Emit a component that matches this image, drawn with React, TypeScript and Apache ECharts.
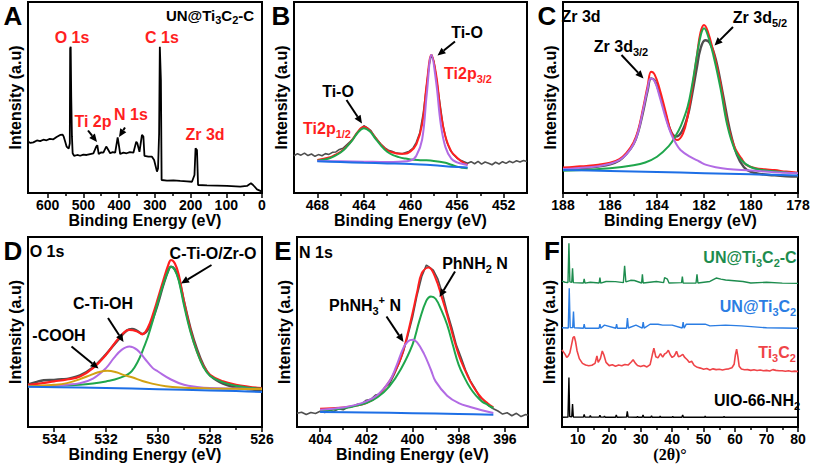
import React, { useEffect, useRef } from "react";
import * as echarts from "echarts";

// ---------- Panel A: survey spectrum (binding energy eV, intensity a.u.) ----------
const surveyA: number[][] = [
  [655, 26.9], [648, 26.2], [640, 26.5], [630, 27.5], [621, 27.2], [612, 27.9], [603, 27.6], [594, 28.3],
  [584, 28.1], [575, 29.3], [565, 30.4], [558, 30.5], [555, 29.5], [551, 26.9], [547, 24.3], [541, 23.2],
  [538, 26], [537, 75.7], [535.5, 76.6], [534, 50.4], [532, 29.5], [530, 20.8], [526, 19.4], [517, 19.9],
  [509, 19.5], [500, 20.1], [491, 19.9], [481, 20.4], [472, 20.8], [464, 24.3], [461, 25], [457, 20.4],
  [450, 21.3], [444, 21.1], [436, 24.3], [433, 23.4], [425, 20.8], [418, 21.4], [411, 21.1], [404, 29.1],
  [400, 24.3], [397, 20.4], [388, 21.1], [379, 20.8], [370, 21.4], [360, 21.1], [352, 26.9], [349, 26],
  [343, 21.6], [336, 30.4], [332, 29.5], [329, 19.4], [318, 19], [308, 19], [302, 17.3], [294, 11.2],
  [291, 12.9], [288, 31.2], [286, 76.6], [283, 59.2], [281, 6.8], [266, 6.5], [248, 6.6], [229, 6.3],
  [210, 6.1], [196, 5.9], [189, 9.4], [186, 23.4], [182, 22.5], [179, 4.2], [154, 4], [125, 3.9],
  [98, 3.7], [61, 3.3], [42, 3.7], [31, 5.1], [25, 4.2], [14, 1.9], [0, 0.7],
];

// ---------- Panel B: Ti 2p ----------
const tiRaw: number[][] = [
  [470, 19.5], [469.7, 20.6], [469.4, 19.8], [469.1, 20.9], [468.8, 19.6], [468.5, 20.4], [468.2, 19.2],
  [467.9, 20.1], [467.6, 19.5], [467.3, 20.6], [467, 20.2], [466.7, 21.3], [466.4, 21.5], [466.1, 22.8],
  [465.8, 23.4], [465.5, 25.1], [465.2, 26.8], [464.9, 28.6], [464.6, 31.2], [464.3, 33.5], [464.0, 35.2],
  [463.7, 34.1], [463.4, 32.6], [463.1, 29.8], [462.8, 27.5], [462.5, 25.3], [462.2, 23.6], [461.9, 22.4],
  [461.6, 21.8], [461.3, 21.1], [461, 20.8], [460.7, 20.5], [460.4, 21.2], [460.1, 21.9], [459.8, 23.4],
  [459.5, 26.5], [459.2, 31.5], [458.9, 42], [458.6, 57], [458.4, 67], [458.2, 72.5], [458, 69],
  [457.8, 61], [457.5, 48], [457.2, 35], [456.9, 27], [456.6, 22.5], [456.3, 20], [456, 18.2], [455.7, 17.1],
  [455.4, 16.4], [455.1, 15.6], [454.8, 16.4], [454.5, 15.3], [454.2, 16.6], [453.9, 15.1], [453.6, 16.2],
  [453.3, 15.6], [453, 14.8], [452.7, 16.1], [452.4, 15.2], [452.1, 16.4], [451.8, 15.5], [451.5, 16.6],
  [451.2, 15.9], [450.9, 16.9], [450.6, 16.2], [450.3, 17], [450, 16.5],
];
const tiEnvelope: number[][] = [
  [468, 17.3], [467, 18.6], [466.5, 19.9], [466, 21.6], [465.5, 24.2], [465, 27.8], [464.5, 32.3], [464, 34.7],
  [463.5, 32.8], [463, 28.9], [462.5, 25.2], [462, 22.4], [461.5, 21.2], [461, 20.6], [460.5, 20.6], [460, 21.8],
  [459.5, 25.5], [459, 36], [458.6, 57.4], [458.2, 72.3], [457.8, 62], [457.4, 42], [457, 29.5], [456.5, 21.8],
  [456, 18.5], [455.5, 16], [455.1, 14.7],
];
const ti2p12: number[][] = [
  [468, 16.9], [467, 18.1], [466.5, 19.4], [466, 21.2], [465.5, 24], [465, 27.5], [464.5, 31.8], [464, 33.9],
  [463.5, 32.3], [463, 28.4], [462.5, 24.6], [462, 21.6], [461.5, 19.8], [461, 18.8], [460.5, 18.1], [460, 17.6],
  [459, 17.2], [458, 16.8], [457, 15.8], [456.5, 14.8], [456, 13.8], [455.5, 13.2], [455.1, 12.9],
];
const ti2p32: number[][] = [
  [468, 16.8], [466, 16.6], [464, 16.4], [462, 16.2], [461, 16.4], [460, 17], [459.5, 19.5], [459, 28],
  [458.6, 52], [458.2, 72.3], [457.8, 58], [457.4, 36], [457, 24], [456.5, 18], [456, 16], [455.5, 15.2], [455.1, 14.7],
];
const tiBase: number[][] = [
  [468, 16.6], [466, 16.2], [464, 15.8], [462, 15.5], [460, 15.2], [458, 14.5], [456.5, 13.8], [455.1, 13.3],
];

// ---------- Panel C: Zr 3d ----------
const zrRaw: number[][] = [
  [188, 12.5], [187, 13.2], [186.5, 13.9], [186, 15], [185.6, 17], [185.3, 20.5], [185, 25.5], [184.8, 32],
  [184.6, 42], [184.4, 53.5], [184.25, 60], [184.1, 59], [183.9, 52.5], [183.6, 39.5], [183.4, 32], [183.2, 29.5],
  [182.95, 32], [182.7, 40], [182.5, 52], [182.3, 66], [182.15, 75.5], [181.95, 80], [181.75, 78.5], [181.5, 70],
  [181.2, 52], [180.9, 33], [180.6, 20], [180.3, 13.5], [180, 11], [179.5, 9.8], [179, 9.2], [178.5, 8.8], [178, 8.6],
];
const zrEnvelope: number[][] = [
  [188, 13.3], [187.5, 13.8], [187, 14.2], [186.5, 14.8], [186, 15.8], [185.6, 17.8], [185.3, 21], [185, 26.5],
  [184.8, 33], [184.6, 44], [184.4, 56], [184.25, 63.5], [184.1, 62], [183.9, 55], [183.6, 41], [183.4, 32],
  [183.15, 27.7], [182.9, 31], [182.7, 40], [182.5, 55], [182.3, 72], [182.15, 84], [182.0, 88], [181.85, 85],
  [181.6, 74], [181.3, 57.4], [181, 36.5], [180.7, 24], [180.4, 18], [180.2, 14.7], [179.8, 13], [179.4, 12.4],
  [179, 12], [178.5, 11.2], [178, 10.6],
];
const zr3d52: number[][] = [
  [188, 11.7], [187, 12.2], [186, 12.9], [185, 14.5], [184.5, 16], [184, 19], [183.5, 24.5], [183.2, 30],
  [183, 34.7], [182.7, 45], [182.5, 57], [182.3, 72], [182.15, 82], [182, 86.2], [181.85, 83], [181.6, 72],
  [181.3, 55], [181, 35], [180.7, 23], [180.4, 17], [180, 13.5], [179.5, 12], [179, 11.4], [178.5, 10.8], [178, 10.4],
];
const zr3d32: number[][] = [
  [188, 12.6], [187, 13.4], [186.5, 14], [186, 15.3], [185.6, 17.2], [185.3, 20.3], [185, 25.5], [184.8, 32],
  [184.6, 43], [184.4, 54.5], [184.27, 60], [184.1, 58.5], [183.9, 51], [183.6, 38], [183.4, 31], [183.2, 26],
  [183, 22.5], [182.6, 19], [182.2, 16.5], [181.9, 14.7], [181.5, 13.5], [181, 12.6], [180, 11.8], [179, 10.9], [178, 10.3],
];
const zrBase: number[][] = [[188, 12], [186, 11.5], [184, 11], [182, 10.4], [180, 9.8], [178, 9.1]];

// ---------- Panel D: O 1s ----------
const oRaw: number[][] = [
  [535, 22.4], [534.7, 23.6], [534.4, 24.6], [534, 24.8], [533.7, 25.1], [533.4, 25.6], [533, 27.2], [532.5, 31.4],
  [532, 38.3], [531.5, 46.4], [531.2, 50.8], [531, 51.6], [530.8, 50.6], [530.6, 49], [530.4, 51], [530.2, 57],
  [530, 65], [529.8, 74.5], [529.6, 82.5], [529.5, 84.4], [529.35, 83], [529.2, 78], [529, 66], [528.75, 52],
  [528.5, 41], [528.25, 32.5], [528, 27.2], [527.5, 22.8], [527, 20.8], [526.5, 19.8], [526, 19.2],
];
const oEnvelope: number[][] = [
  [535, 22.2], [534.5, 23], [534, 24], [533.5, 25], [533, 26.6], [532.5, 31], [532, 38], [531.5, 46.8],
  [531.1, 51.1], [530.8, 50.3], [530.6, 48.8], [530.4, 52], [530.2, 59], [530, 67.8], [529.8, 77], [529.6, 85.5],
  [529.5, 87.9], [529.35, 86], [529.2, 80], [529, 66], [528.75, 51], [528.5, 39.8], [528.25, 32], [528, 27.5],
  [527.5, 24], [527, 22.2], [526.5, 21.2], [526, 20.5],
];
const oLattice: number[][] = [
  [535, 21.4], [534, 21.7], [533, 22.2], [532.5, 22.9], [532, 24], [531.5, 25.7], [531, 29.5], [530.5, 43.3],
  [530.2, 56], [530, 66], [529.8, 75], [529.6, 82.5], [529.5, 84.4], [529.35, 82.5], [529.2, 77], [529, 64],
  [528.75, 50], [528.5, 39.5], [528.25, 31.5], [528, 27], [527.5, 23.5], [527, 21.7], [526.5, 20.7], [526, 20.1],
];
const oHydroxyl: number[][] = [
  [535, 21.4], [534, 21.8], [533.5, 22.3], [533, 23.1], [532.5, 25.5], [532, 31], [531.7, 36.2], [531.4, 40.6],
  [531.1, 42.4], [530.8, 40.6], [530.5, 35.8], [530.2, 31], [530, 29.2], [529.5, 25], [529, 22.2], [528.5, 21.1],
  [528, 20.5], [527, 20.2], [526, 20],
];
const oCarboxyl: number[][] = [
  [535, 21.4], [534, 22.2], [533.5, 23.1], [533, 25.2], [532.6, 27.3], [532.3, 28.8], [531.95, 29.6], [531.6, 28.8],
  [531.3, 27.3], [531, 26.2], [530.6, 24.2], [530.3, 23.1], [529.7, 21.4], [529, 20.7], [528, 20.3], [527, 20.1], [526, 20],
];
const oBase: number[][] = [[535, 21.2], [533, 20.8], [531, 20.2], [529, 19.6], [527, 18.9], [526, 18.4]];

// ---------- Panel E: N 1s ----------
const nRaw: number[][] = [
  [405, 7.2], [404.8, 7.8], [404.6, 6.6], [404.4, 7.6], [404.2, 7.1], [404, 8.3], [403.8, 7.6], [403.6, 8.8],
  [403.4, 8.2], [403.2, 9.6], [403, 9.1], [402.8, 10.4], [402.6, 10.8], [402.4, 11.9], [402.2, 12.2], [402, 14.1],
  [401.8, 14.6], [401.6, 16.8], [401.4, 17.4], [401.2, 20.8], [401, 22.6], [400.8, 27.4], [400.6, 33.1],
  [400.4, 39.5], [400.2, 48.2], [400, 57.6], [399.8, 69.5], [399.6, 79.2], [399.4, 85.2], [399.3, 84.4],
  [399.1, 82.6], [398.9, 77.8], [398.7, 70.2], [398.5, 60.6], [398.3, 52.4], [398.1, 43.1], [397.9, 36.7],
  [397.7, 29.8], [397.5, 24.4], [397.3, 20.5], [397.1, 15.8], [396.9, 13.9], [396.7, 11.2], [396.5, 9.6],
  [396.3, 8.4], [396.1, 6.8], [395.9, 7.5], [395.7, 5.9], [395.5, 7.2], [395.3, 5.5], [395.1, 6.6], [395, 6.2],
];
const nEnvelope: number[][] = [
  [404, 9.6], [403.5, 9.9], [403, 10.3], [402.5, 11.2], [402, 12.6], [401.5, 16.5], [401, 24], [400.75, 29.5],
  [400.5, 36.3], [400.25, 47], [400, 59.9], [399.8, 71], [399.6, 80.9], [399.3, 84], [399, 78.3], [398.75, 69],
  [398.5, 59], [398.25, 48], [398, 38], [397.75, 30.5], [397.5, 24], [397.25, 19], [397, 15.2], [396.75, 12.5], [396.5, 10.3],
];
const nAmine: number[][] = [
  [404, 8.6], [403, 9.8], [402, 12.6], [401.5, 15.8], [401, 21.4], [400.5, 30.5], [400, 43.3], [399.7, 56],
  [399.4, 66.5], [399.2, 68.7], [399, 67.5], [398.75, 61.5], [398.5, 53.8], [398.25, 43], [398, 32.7],
  [397.75, 26], [397.5, 20.5], [397.25, 16.5], [397, 13.5], [396.75, 11.7], [396.5, 10],
];
const nAmmonium: number[][] = [
  [404, 9.1], [403, 10.3], [402.5, 11.5], [402, 13.5], [401.5, 17], [401, 24], [400.7, 32], [400.4, 41.5],
  [400.2, 45], [400, 45.9], [399.8, 44.5], [399.5, 38.5], [399.2, 30], [399, 24], [398.5, 16.5], [398, 12.6],
  [397.5, 10.5], [397, 8.8], [396.5, 7.4],
];
const nBase: number[][] = [[404, 7.9], [402, 7.6], [400, 7.3], [398, 6.9], [396.5, 6.5]];

// ---------- Panel F: XRD (2theta, stacked intensity) ----------
const xrdUnC: number[][] = [
  [5, 76.8], [6, 76.2], [6.9, 76], [7.2, 96.7], [7.5, 76.4], [8.1, 76.2], [8.35, 83.5], [8.6, 76], [11.8, 75.8],
  [12.05, 78], [12.3, 75.7], [14, 76.2], [16.8, 75.8], [17.05, 78.6], [17.3, 75.7], [19, 76.6], [22, 76.5],
  [24.5, 76], [24.9, 84.9], [25.3, 76.4], [26.8, 77.2], [28, 77.1], [30.3, 75.8], [30.55, 80.4], [30.8, 75.8],
  [35, 76.6], [37.3, 76], [37.6, 78.6], [38.5, 77.8], [39, 75.8], [43, 76], [43.25, 79.2], [43.5, 75.7], [47.6, 75.8],
  [47.9, 80.4], [48.2, 75.8], [52, 76.6], [54, 78.4], [55.5, 77.8], [57, 77.4], [62.5, 76.6], [65, 75.8], [70, 76.2],
  [75, 75.7], [80, 75.6],
];
const xrdUn: number[][] = [
  [5, 52.2], [7, 52.1], [7.3, 73], [7.6, 52.4], [8.4, 52.3], [8.65, 60.8], [8.9, 52.2], [11.8, 52], [12.05, 54.1],
  [12.3, 52], [16.8, 52], [17.05, 54.1], [17.3, 52], [18.5, 53.6], [22.1, 52], [22.35, 54.1], [22.6, 52], [25.5, 52],
  [25.8, 57.3], [26.1, 52.1], [28.5, 53.6], [30.5, 52], [30.8, 55.2], [31.1, 52], [33, 54.1], [35.5, 54.1],
  [37, 53.6], [40, 53.6], [43.2, 52.1], [43.5, 55.2], [43.8, 52], [44.5, 54.1], [50.5, 54.1], [52, 53.2],
  [57, 53.6], [62, 53.2], [70, 52.2], [80, 52],
];
const xrdTi3C2: number[][] = [
  [5, 40.6], [5.5, 39.4], [6, 38.2], [6.5, 36.6], [7, 37.4], [7.5, 39], [8, 43], [8.5, 47], [8.9, 47.6], [9.3, 45],
  [9.8, 40], [10.5, 36], [11.5, 33.5], [12.5, 32.6], [13.5, 32.2], [14.5, 32.5], [15.5, 33.5], [16.1, 37.4],
  [16.5, 34], [17.2, 36], [17.8, 40], [18.3, 38], [19, 34], [20, 32.3], [21, 32.8], [22, 32], [23, 32.6], [24, 32.2],
  [25, 32.9], [26, 32.6], [27, 34.2], [27.6, 35.4], [28.3, 33.6], [29, 32.4], [30, 31.8], [31, 32.4], [32, 31.6],
  [33, 32.8], [33.7, 38], [34.2, 41.5], [34.8, 37], [35.5, 36.4], [36.3, 38.6], [37, 36.8], [37.6, 38.4],
  [38.2, 39], [38.8, 40.4], [39.4, 38], [40, 36.6], [40.7, 37.4], [41.4, 39.8], [42, 37], [42.7, 37.4],
  [43.4, 38.2], [44, 36.6], [44.8, 35.4], [45.5, 34], [46.2, 34.6], [47, 32.4], [48, 31.4], [49, 31], [50, 30.4],
  [51, 30.8], [52, 30], [53, 30.6], [54, 30.2], [55, 30.4], [56, 30], [57, 30.4], [58, 30.6], [59, 31.2],
  [59.7, 33], [60.1, 38], [60.5, 41], [60.9, 37], [61.3, 32], [62, 30.5], [63, 30.1], [64, 30.2], [65, 29.8],
  [66, 30.1], [67, 29.7], [68, 30], [69, 29.6], [70, 29.8], [71, 29.5], [72, 30.2], [73, 29.8], [74, 29.6],
  [75, 29.6], [76, 29.3], [77, 29.6], [78, 29.2], [79, 29.4], [80, 29.2],
];
const xrdUio: number[][] = [
  [5, 5.1], [6.9, 5.2], [7.2, 26], [7.45, 5.5], [8.1, 5.4], [8.35, 12.1], [8.6, 5.3], [11.8, 5.2], [12.05, 6.6],
  [12.3, 5.2], [13.8, 5.2], [14.0, 6], [14.25, 5.2], [16.8, 5.2], [17.05, 6.2], [17.3, 5.2], [18.3, 5.2], [18.5, 5.8],
  [18.7, 5.1], [22, 5.1], [22.25, 6.3], [22.5, 5.1], [25.5, 5.2], [25.75, 8.2], [26, 5.3], [28.8, 5.1], [29, 5.6],
  [29.2, 5.1], [30.5, 5.1], [30.75, 6.4], [31, 5.1], [33.2, 5.1], [33.45, 5.8], [33.7, 5.1], [36, 5.1], [36.2, 5.7],
  [36.4, 5.1], [40, 5.1], [40.2, 5.6], [40.4, 5.1], [43.1, 5.1], [43.35, 6.4], [43.6, 5.1], [50.3, 5.1], [50.5, 5.7],
  [50.7, 5.1], [56.3, 5.1], [56.5, 5.5], [56.7, 5.1], [80, 5.1],
];

// ---------- axis ticks ----------
const ticksA = [0, 100, 200, 300, 400, 500, 600];
const minorA = [50, 150, 250, 350, 450, 550];
const ticksB = [452, 456, 460, 464, 468];
const minorB = [454, 458, 462, 466];
const ticksC = [178, 180, 182, 184, 186, 188];
const minorC = [179, 181, 183, 185, 187];
const ticksD = [526, 528, 530, 532, 534];
const minorD = [527, 529, 531, 533];
const ticksE = [396, 398, 400, 402, 404];
const minorE = [397, 399, 401, 403];
const ticksF = [10, 20, 30, 40, 50, 60, 70, 80];
const minorF = [15, 25, 35, 45, 55, 65, 75];

const FONT = "'Liberation Sans', Arial, Helvetica, sans-serif";
const SERIF = "'Liberation Serif', 'Times New Roman', serif";
const GRAY = "#4f4f4f";
const RED = "#ff1f1f";
const GREEN = "#1fa64c";
const PURPLE = "#b26be4";
const BLUE = "#1d6fe6";
const GOLD = "#d2a112";
const F_GREEN = "#1d8c4e";
const F_BLUE = "#2b7de3";
const F_RED = "#ef4448";

const panels = [
  { grid: { left: 28, top: 2, width: 234, height: 191 }, min: 0, max: 655, inverse: true, majors: ticksA, minors: minorA, xName: "Binding Energy (eV)" },
  { grid: { left: 294, top: 2, width: 233, height: 191 }, min: 450, max: 470, inverse: true, majors: ticksB, minors: minorB, xName: "Binding Energy (eV)" },
  { grid: { left: 563, top: 2, width: 235, height: 191 }, min: 178, max: 188, inverse: true, majors: ticksC, minors: minorC, xName: "Binding Energy (eV)" },
  { grid: { left: 28, top: 237, width: 234, height: 190 }, min: 526, max: 535, inverse: true, majors: ticksD, minors: minorD, xName: "Binding Energy (eV)" },
  { grid: { left: 297, top: 237, width: 231, height: 190 }, min: 395, max: 405, inverse: true, majors: ticksE, minors: minorE, xName: "Binding Energy (eV)" },
  { grid: { left: 562, top: 237, width: 236, height: 190 }, min: 5, max: 80, inverse: false, majors: ticksF, minors: minorF, xName: "(2θ)°" },
];

function richStyles(color: string, size: number) {
  const base = { fontSize: size, fontWeight: "bold", fontFamily: FONT, fill: color };
  return {
    a: { ...base, lineHeight: size + 6 },
    s: { ...base, fontSize: Math.round(size * 0.7), lineHeight: 12, verticalAlign: "bottom" },
    p: { ...base, fontSize: Math.round(size * 0.7), lineHeight: 12, verticalAlign: "top" },
  };
}

function label(x: number, y: number, text: string, color = "#000", size = 16, rich = false) {
  const style: any = {
    text,
    fill: color,
    fontSize: size,
    fontWeight: "bold",
    fontFamily: FONT,
    align: "center",
    verticalAlign: "middle",
  };
  if (rich) style.rich = richStyles(color, size);
  return { type: "text", x, y, z: 100, style };
}

function arrow(x1: number, y1: number, x2: number, y2: number) {
  const ang = Math.atan2(y2 - y1, x2 - x1);
  const L = 8;
  const W = 3.6;
  const c = Math.cos(ang);
  const s = Math.sin(ang);
  const bx = x2 - L * c;
  const by = y2 - L * s;
  return [
    { type: "line", z: 100, shape: { x1, y1, x2: bx, y2: by }, style: { stroke: "#000", lineWidth: 2 } },
    {
      type: "polygon",
      z: 100,
      shape: { points: [[x2, y2], [bx + W * s, by - W * c], [bx - W * s, by + W * c]] },
      style: { fill: "#000" },
    },
  ];
}

export default function App() {
  const ref = useRef<HTMLDivElement>(null);
  useEffect(() => {
    if (!ref.current) return;
    const chart = echarts.init(ref.current, undefined, { renderer: "svg" });

    const grid = panels.map((p) => ({
      ...p.grid,
      show: true,
      borderColor: "#000",
      borderWidth: 2,
      backgroundColor: "transparent",
    }));

    const xAxis: any[] = [];
    const yAxis: any[] = [];
    panels.forEach((p, i) => {
      const isF = i === 5;
      xAxis.push({
        type: "value",
        gridIndex: i,
        min: p.min,
        max: p.max,
        inverse: p.inverse,
        position: "bottom",
        axisLine: { show: false, onZero: false },
        splitLine: { show: false },
        axisTick: { show: true, inside: false, length: 5, lineStyle: { color: "#000", width: 1.5 }, customValues: p.majors },
        axisLabel: {
          customValues: p.majors,
          margin: 5,
          fontSize: 14,
          fontWeight: "bold",
          color: "#000",
          fontFamily: FONT,
        },
        name: p.xName,
        nameLocation: "middle",
        nameGap: isF ? 18 : 15,
        nameTextStyle: isF
          ? { fontSize: 16, fontWeight: "bold", color: "#000", fontFamily: SERIF, padding: [0, 20, 0, 0] }
          : { fontSize: 16, fontWeight: "bold", color: "#000", fontFamily: FONT },
      });
      xAxis.push({
        type: "value",
        gridIndex: i,
        min: p.min,
        max: p.max,
        inverse: p.inverse,
        position: "bottom",
        axisLine: { show: false, onZero: false },
        splitLine: { show: false },
        axisTick: { show: true, inside: false, length: 3, lineStyle: { color: "#000", width: 1.5 }, customValues: p.minors },
        axisLabel: { show: false },
      });
      yAxis.push({
        type: "value",
        gridIndex: i,
        min: 0,
        max: 100,
        axisLine: { show: false },
        axisTick: { show: false },
        axisLabel: { show: false },
        splitLine: { show: false },
        name: "Intensity (a.u)",
        nameLocation: "middle",
        nameGap: 5,
        nameTextStyle: { fontSize: 16, fontWeight: "bold", color: "#000", fontFamily: FONT },
      });
    });

    const line = (i: number, data: number[][], color: string, width: number, smooth: number | boolean = false) => ({
      type: "line",
      xAxisIndex: i * 2,
      yAxisIndex: i,
      data,
      showSymbol: false,
      symbol: "none",
      smooth,
      lineStyle: { color, width },
      silent: true,
    });

    const series: any[] = [
      line(0, surveyA, "#000", 1.8),

      line(1, tiRaw, GRAY, 1.6),
      line(1, tiEnvelope, RED, 2, 0.4),
      line(1, ti2p12, GREEN, 2, 0.4),
      line(1, ti2p32, PURPLE, 2, 0.4),
      line(1, tiBase, BLUE, 2, 0.3),

      line(2, zrRaw, GRAY, 2.4, 0.4),
      line(2, zrEnvelope, RED, 2, 0.4),
      line(2, zr3d52, GREEN, 2, 0.4),
      line(2, zr3d32, PURPLE, 2, 0.4),
      line(2, zrBase, BLUE, 2, 0.3),

      line(3, oRaw, GRAY, 2.4, 0.4),
      line(3, oEnvelope, RED, 2.2, 0.4),
      line(3, oLattice, GREEN, 2, 0.4),
      line(3, oHydroxyl, PURPLE, 2, 0.4),
      line(3, oCarboxyl, GOLD, 2, 0.4),
      line(3, oBase, BLUE, 2, 0.3),

      line(4, nRaw, GRAY, 1.6),
      line(4, nEnvelope, RED, 2, 0.4),
      line(4, nAmine, GREEN, 2, 0.4),
      line(4, nAmmonium, PURPLE, 2, 0.4),
      line(4, nBase, BLUE, 2, 0.3),

      line(5, xrdUnC, F_GREEN, 1.4),
      line(5, xrdUn, F_BLUE, 1.4),
      line(5, xrdTi3C2, F_RED, 1.6),
      line(5, xrdUio, "#000", 1.4),
    ];

    const elements: any[] = [
      // panel letters
      label(13, 16, "A", "#000", 26),
      label(281, 16, "B", "#000", 26),
      label(547, 16, "C", "#000", 26),
      label(13, 251, "D", "#000", 26),
      label(283, 251, "E", "#000", 26),
      label(552, 251, "F", "#000", 26),

      // A
      label(210, 15, "{a|UN@Ti}{s|3}{a|C}{s|2}{a|-C}", "#000", 15, true),
      label(72, 37, "O 1s", RED),
      label(162, 37, "C 1s", RED),
      label(93, 121, "Ti 2p", RED),
      label(131, 114, "N 1s", RED),
      label(205, 134, "Zr 3d", RED),
      ...arrow(88, 130.5, 97, 142),
      ...arrow(125, 127.5, 119, 137),

      // B
      label(467, 32, "Ti-O"),
      ...arrow(455, 41.5, 437.5, 55.5),
      label(468, 73, "{a|Ti2p}{s|3/2}", RED, 16, true),
      label(338, 91, "Ti-O"),
      ...arrow(346.5, 100, 362, 123.5),
      label(327, 128, "{a|Ti2p}{s|1/2}", RED, 16, true),

      // C
      label(581, 16, "Zr 3d"),
      label(760, 17, "{a|Zr 3d}{s|5/2}", "#000", 16, true),
      ...arrow(733, 27, 714.5, 45.5),
      label(621, 46, "{a|Zr 3d}{s|3/2}", "#000", 16, true),
      ...arrow(621.5, 55, 643.5, 78.5),

      // D
      label(47, 251, "O 1s"),
      label(213, 253, "C-Ti-O/Zr-O"),
      ...arrow(211.5, 265, 181, 283.5),
      label(103, 303, "C-Ti-OH"),
      ...arrow(108, 318, 123.5, 342),
      label(59, 335, "-COOH"),
      ...arrow(71.5, 346.5, 98.5, 368.5),

      // E
      label(316, 252, "N 1s"),
      label(475, 263, "{a|PhNH}{s|2}{a| N}", "#000", 16, true),
      ...arrow(455, 271.5, 439.5, 297),
      label(365, 305, "{a|PhNH}{s|3}{p|+}{a| N}", "#000", 16, true),
      ...arrow(386.5, 316.5, 403.5, 342),

      // F
      label(750, 257, "{a|UN@Ti}{s|3}{a|C}{s|2}{a|-C}", F_GREEN, 16, true),
      label(758, 306, "{a|UN@Ti}{s|3}{a|C}{s|2}", F_BLUE, 16, true),
      label(777, 352, "{a|Ti}{s|3}{a|C}{s|2}", F_RED, 16, true),
      label(757, 400, "{a|UIO-66-NH}{s|2}", "#000", 16, true),
    ];

    chart.setOption({
      animation: false,
      backgroundColor: "#fff",
      grid,
      xAxis,
      yAxis,
      series,
      graphic: { elements },
    });
    return () => chart.dispose();
  }, []);

  return (
    <div
      ref={ref}
      style={{ position: "fixed", left: 0, top: 0, width: 814, height: 471, background: "#fff" }}
    />
  );
}
